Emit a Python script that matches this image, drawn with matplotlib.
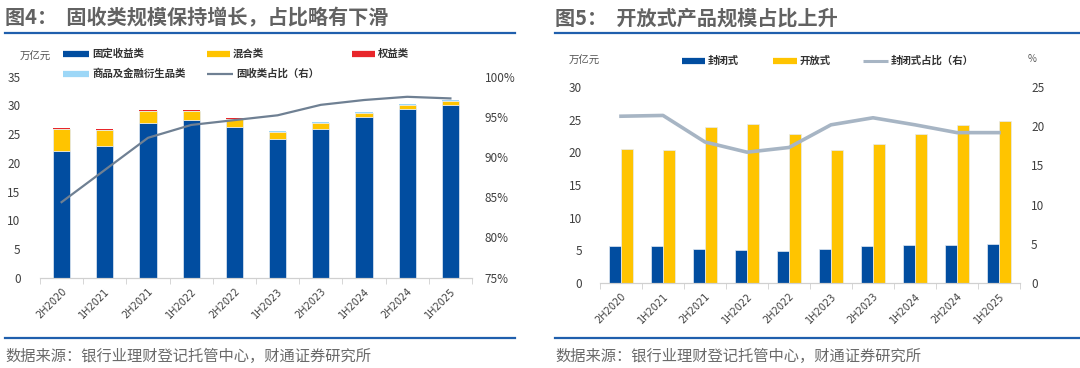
import matplotlib
matplotlib.use("Agg")
import matplotlib.pyplot as plt
import numpy as np
from matplotlib.lines import Line2D

plt.rcParams['font.family'] = ['Noto Sans CJK SC', 'DejaVu Sans']

# ---------------- data ----------------
periods = ["2H2020", "1H2021", "2H2021", "1H2022", "2H2022",
           "1H2023", "2H2023", "1H2024", "2H2024", "1H2025"]

# Figure 4 (万亿元)
fixed_income = [22.0, 22.9, 27.0, 27.5, 26.25, 24.15, 25.9, 27.9, 29.3, 30.0]
mixed = [3.85, 2.8, 2.0, 1.6, 1.45, 1.15, 1.0, 0.7, 0.8, 0.7]
equity = [0.15, 0.15, 0.2, 0.15, 0.15, 0.15, 0.05, 0.1, 0.05, 0.15]
commodity = [0.02, 0.02, 0.03, 0.03, 0.03, 0.03, 0.08, 0.08, 0.08, 0.05]
fixed_share = [84.4, 88.4, 92.4, 94.0, 94.6, 95.2, 96.5, 97.1, 97.5, 97.3]

# Figure 5 (万亿元, %)
closed_end = [5.56, 5.56, 5.25, 5.0, 4.9, 5.15, 5.7, 5.8, 5.8, 5.9]
open_end = [20.5, 20.4, 23.9, 24.3, 22.9, 20.4, 21.25, 22.85, 24.2, 24.9]
closed_share = [21.3, 21.4, 18.0, 16.7, 17.3, 20.2, 21.1, 20.2, 19.2, 19.2]

# ---------------- style ----------------
BLUE = "#014DA0"
YELLOW = "#FFC400"
RED = "#E8262B"
LIGHTBLUE = "#9DD7F7"
LINE1 = "#6F8093"
LINE2 = "#A7B5C4"
TITLE_C = "#626262"
TEXT_C = "#404040"
RULE_C = "#1F5FAD"

W, H = 1080, 368
fig = plt.figure(figsize=(W / 100, H / 100), dpi=100)


def fx(px):
    return px / W


def fy(py):
    return 1 - py / H


# titles, rules, sources
for x0, x1, title in [(5, 515, "图4：  固收类规模保持增长，占比略有下滑"),
                      (555, 1080, "图5：  开放式产品规模占比上升")]:
    fig.text(fx(x0), fy(18), title, fontsize=14.5, color=TITLE_C,
             fontweight='bold', va='center', ha='left')
    fig.add_artist(Line2D([fx(x0), fx(x1)], [fy(33), fy(33)],
                          color=RULE_C, lw=1.6))
    fig.add_artist(Line2D([fx(x0), fx(x1)], [fy(338), fy(338)],
                          color=RULE_C, lw=1.6))
    fig.text(fx(x0), fy(356), "数据来源：银行业理财登记托管中心，财通证券研究所",
             fontsize=11, color="#6A6A6A", va='center', ha='left')


def style_axes(ax, ax2, pad_l, pad_r):
    for a in (ax, ax2):
        for s in ("top", "left", "right"):
            a.spines[s].set_visible(False)
        a.spines["bottom"].set_color("#D0D0D0")
        a.tick_params(axis='y', length=0, labelsize=8.5, colors=TEXT_C)
    ax.tick_params(axis='y', pad=pad_l)
    ax2.tick_params(axis='y', pad=pad_r)
    ax.set_xlim(-0.5, len(periods) - 0.5)
    ax.set_xticks(np.arange(len(periods)))
    ax.set_xticklabels(periods, rotation=45, ha='right', rotation_mode='anchor',
                       fontsize=7, color=TEXT_C, family='DejaVu Sans')
    ax.tick_params(axis='x', which='major', length=0, pad=6)
    ax.set_xticks(np.arange(len(periods) + 1) - 0.5, minor=True)
    ax.tick_params(axis='x', which='minor', length=4, color="#D0D0D0")


LEG_FONT = dict(fontsize=7.5, fontweight='bold', color="#333333")

# ---------------- Figure 4 ----------------
ax = fig.add_axes([fx(40), fy(277.7), fx(432), (277.7 - 76.7) / H])
ax2 = ax.twinx()
x = np.arange(len(periods))
bw = 0.4
fi = np.array(fixed_income)
mx = np.array(mixed)
eq = np.array(equity)
cm = np.array(commodity)
ec = "#E3EAF4"
ax.bar(x, fi, bw, color=BLUE, edgecolor=ec, linewidth=0.5, zorder=2)
ax.bar(x, mx, bw, bottom=fi, color=YELLOW, edgecolor=ec, linewidth=0.5, zorder=2)
ax.bar(x, eq, bw, bottom=fi + mx, color=RED, linewidth=0, zorder=2)
ax.bar(x, cm, bw, bottom=fi + mx + eq, color=LIGHTBLUE, linewidth=0, zorder=2)
ax2.plot(x, fixed_share, color=LINE1, lw=1.6, zorder=3)
ax.set_ylim(0, 35)
ax.set_yticks(np.arange(0, 36, 5))
ax2.set_ylim(75, 100)
ax2.set_yticks(np.arange(75, 101, 5))
ax2.set_yticklabels([f"{v}%" for v in range(75, 101, 5)])
style_axes(ax, ax2, 14, 9)

fig.text(fx(20), fy(57), "万亿元", fontsize=7.5, color="#555555", va='center',
         fontstyle='italic')


def legend_patch(x0, x1, y, color, label, lw=4.5):
    fig.add_artist(Line2D([fx(x0), fx(x1)], [fy(y), fy(y)], color=color,
                          lw=lw, solid_capstyle='butt'))
    fig.text(fx(x1 + 3), fy(y), label, va='center', ha='left', **LEG_FONT)


legend_patch(63, 89, 54, BLUE, "固定收益类")
legend_patch(207, 230, 54, YELLOW, "混合类")
legend_patch(352, 375, 54, RED, "权益类")
legend_patch(63, 89, 74, LIGHTBLUE, "商品及金融衍生品类")
legend_patch(207, 233, 74, LINE1, "固收类占比（右）", lw=1.6)

# ---------------- Figure 5 ----------------
bx = fig.add_axes([fx(600), fy(282.7), fx(420), (282.7 - 87.3) / H])
bx2 = bx.twinx()
bw2 = 0.29
bx.bar(x - bw2 / 2, closed_end, bw2, color=BLUE, edgecolor=ec, linewidth=0.5, zorder=2)
bx.bar(x + bw2 / 2, open_end, bw2, color=YELLOW, edgecolor=ec, linewidth=0.5, zorder=2)
bx2.plot(x, closed_share, color=LINE2, lw=2.6, zorder=3)
bx.set_ylim(0, 30)
bx.set_yticks(np.arange(0, 31, 5))
bx2.set_ylim(0, 25)
bx2.set_yticks(np.arange(0, 26, 5))
style_axes(bx, bx2, 13, 8)

fig.text(fx(569), fy(61), "万亿元", fontsize=7.5, color="#555555", va='center',
         fontstyle='italic')
fig.text(fx(1028), fy(59), "%", fontsize=7, color="#555555", va='center')
legend_patch(682, 705, 61, BLUE, "封闭式")
legend_patch(773, 797, 61, YELLOW, "开放式")
legend_patch(863, 888, 61, LINE2, "封闭式占比（右）", lw=2.2)

fig.savefig("out.png", dpi=100, facecolor="white")
